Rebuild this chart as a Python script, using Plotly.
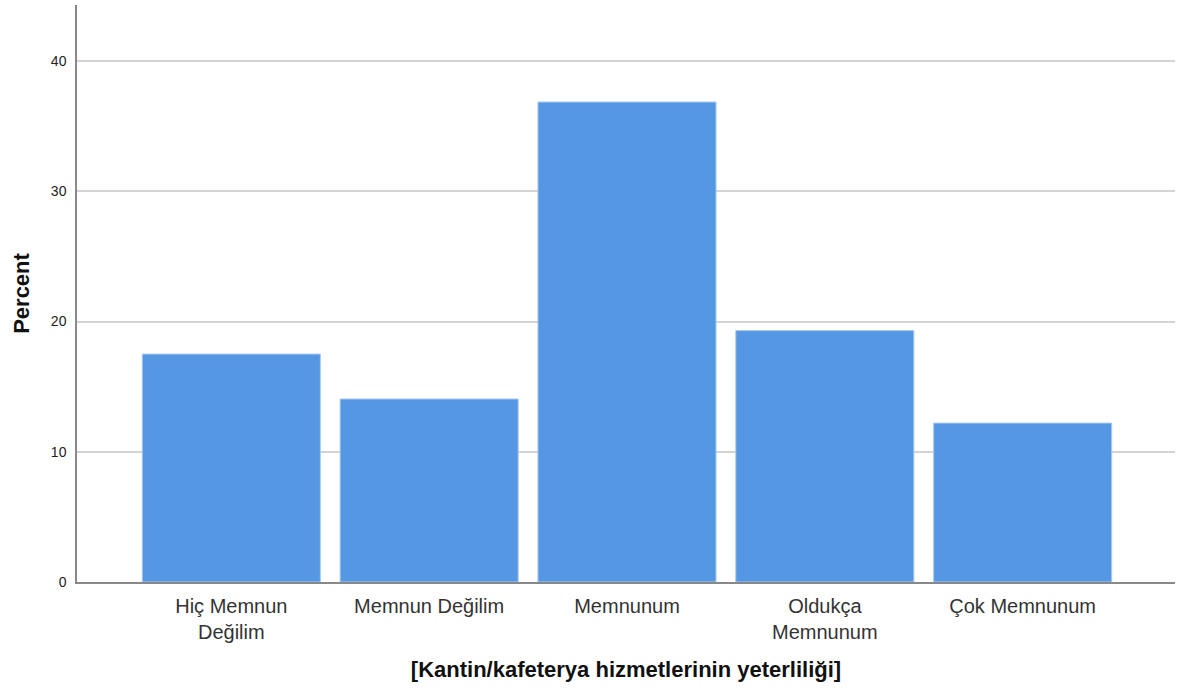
"""SPSS-style percent bar chart of canteen service satisfaction."""
import plotly.graph_objects as go

categories = [
    "Hiç Memnun<br>Değilim",
    "Memnun Değilim",
    "Memnunum",
    "Oldukça<br>Memnunum",
    "Çok Memnunum",
]
percent = [17.5, 14.05, 36.85, 19.3, 12.2]
y_ticks = [0, 10, 20, 30, 40]

fig = go.Figure(
    go.Bar(
        x=categories,
        y=percent,
        width=0.9,
        marker=dict(color="#5597e3", line=dict(color="#a9c9f0", width=1)),
    )
)

fig.update_layout(
    width=1183,
    height=695,
    plot_bgcolor="white",
    paper_bgcolor="white",
    margin=dict(l=77, r=8, t=5, b=113),
    font=dict(family="Liberation Sans, Arial, sans-serif", color="#222"),
    showlegend=False,
)

fig.update_xaxes(
    range=[-0.78, 4.77],
    showline=True,
    linecolor="#888",
    linewidth=1.5,
    ticks="",
    ticklabelstandoff=5,
    tickfont=dict(size=20, color="#333"),
    title=dict(
        text="<b>[Kantin/kafeterya hizmetlerinin yeterliliği]</b>",
        font=dict(size=22, color="#111"),
        standoff=20,
    ),
)

fig.update_yaxes(
    range=[0, 44.3],
    tickvals=y_ticks,
    showline=True,
    linecolor="#888",
    linewidth=1.5,
    showgrid=True,
    gridcolor="#d4d4d4",
    gridwidth=1.5,
    zeroline=False,
    ticks="",
    ticklabelstandoff=6,
    tickfont=dict(size=14, color="#222"),
    title=dict(text="<b>Percent</b>", font=dict(size=22, color="#111"), standoff=15),
)

# the page body has a default 8px margin; drop it so the figure sits at 0,0
fig.write_html(
    "out.html",
    config={"displayModeBar": False},
    post_script="document.body.style.margin='0';",
)
